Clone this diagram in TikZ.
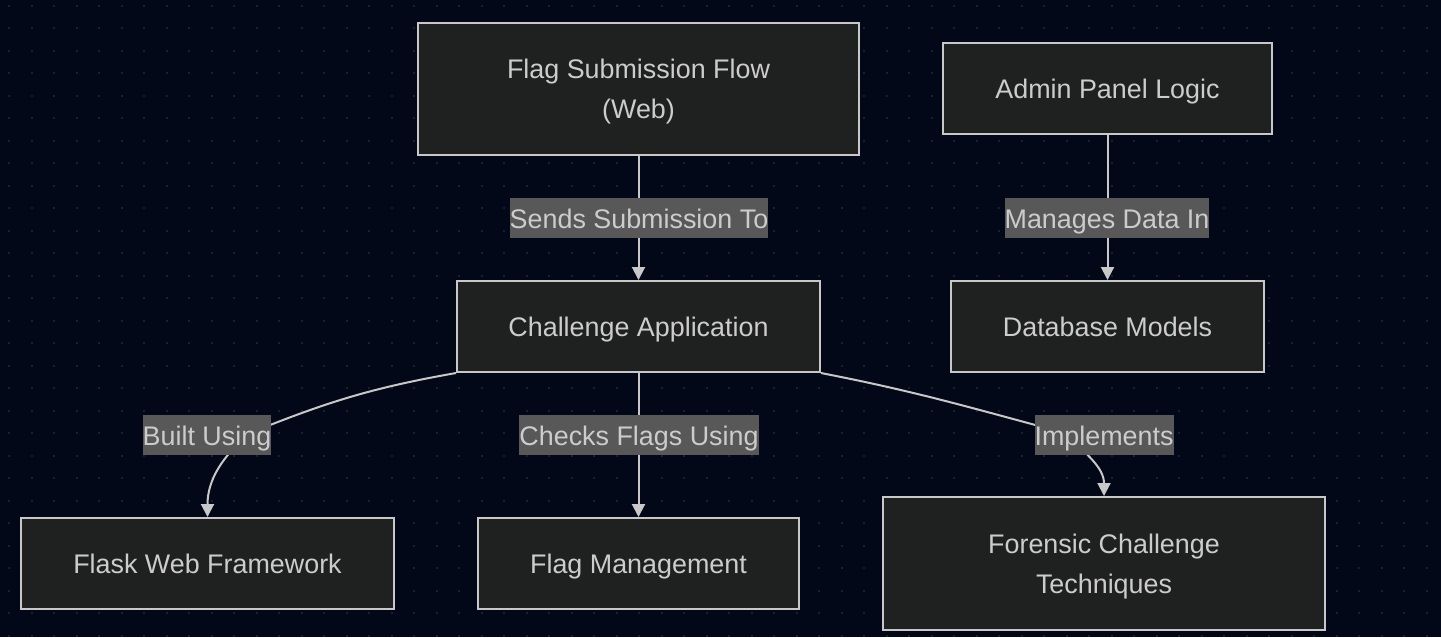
\documentclass[tikz,border=0pt]{standalone}
\usepackage{fontspec}
\setmainfont{Liberation Sans}
\usetikzlibrary{arrows.meta}
\definecolor{bgcol}{HTML}{020817}
\definecolor{dotcol}{HTML}{1B1F2C}
\definecolor{boxfill}{HTML}{1F2020}
\definecolor{boxline}{HTML}{C8C8C8}
\definecolor{txtcol}{HTML}{CCCCCC}
\definecolor{lblfill}{HTML}{585858}

\begin{document}
\begin{tikzpicture}[
  box/.style={draw=boxline, fill=boxfill, line width=0.02cm, inner sep=0pt, align=center,
    text=txtcol, text depth=0pt, font=\fontsize{7.65}{11.5}\selectfont},
  lbl/.style={fill=lblfill, inner xsep=0pt, inner ysep=0pt, minimum height=0.40cm,
    text=txtcol, text height=6.1pt, text depth=0pt, font=\fontsize{7.65}{11.5}\selectfont},
  edge/.style={draw=boxline, line width=0.02cm, -{Triangle[length=0.13cm, width=0.13cm]}}
]
\useasboundingbox (0, 0) rectangle (14.41, -6.37);
\fill[bgcol] (0, 0) rectangle (14.41, -6.37);
\foreach \i in {0,...,63}
  \foreach \j in {0,...,28}
    \fill[dotcol] (0.08+0.225*\i, -0.047-0.225*\j) rectangle ++(0.02, -0.02);

\node[box, minimum width=4.41cm, minimum height=1.32cm] (fsf) at (6.385, -0.89) {Flag Submission Flow\\(Web)};
\node[box, minimum width=3.29cm, minimum height=0.91cm] (apl) at (11.075, -0.885) {Admin Panel Logic};
\node[box, minimum width=3.63cm, minimum height=0.91cm] (ca) at (6.385, -3.265) {Challenge Application};
\node[box, minimum width=3.13cm, minimum height=0.91cm] (dbm) at (11.075, -3.265) {Database Models};
\node[box, minimum width=3.73cm, minimum height=0.91cm] (fwf) at (2.075, -5.635) {Flask Web Framework};
\node[box, minimum width=3.21cm, minimum height=0.91cm] (fm) at (6.385, -5.635) {Flag Management};
\node[box, minimum width=4.42cm, minimum height=1.33cm] (fct) at (11.04, -5.635) {Forensic Challenge\\Techniques};

\coordinate (kbuilt) at (2.5, -4.33);
\coordinate (kimpl) at (10.65, -4.33);

\draw[edge] (fsf) -- (ca);
\draw[edge] (apl) -- (dbm);
\draw[edge] (ca) -- (fm);
\draw[edge] (ca.south west) to[out=190, in=22] (kbuilt) to[out=220, in=90] (fwf.north);
\draw[edge] (ca.south east) to[out=-11, in=165] (kimpl) to[out=-45, in=90] (fct.north);

\node[lbl] (lsend) at (6.39, -2.18) {Sends Submission To};
\node[lbl] (lmanage) at (11.07, -2.18) {Manages Data In};
\node[lbl] (lbuilt) at (2.07, -4.35) {Built Using};
\node[lbl] (lcheck) at (6.39, -4.35) {Checks Flags Using};
\node[lbl] (limpl) at (11.04, -4.35) {Implements};
\end{tikzpicture}
\end{document}
